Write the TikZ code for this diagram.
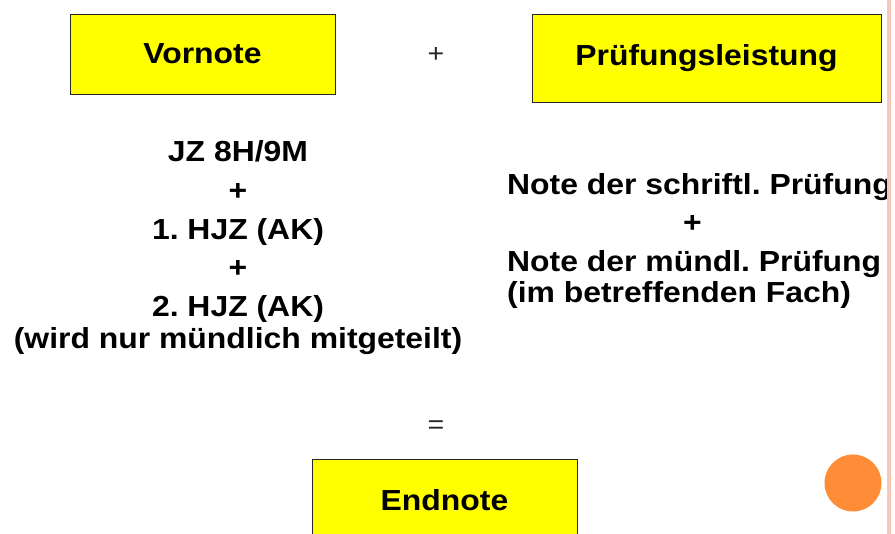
\documentclass[tikz,border=0pt]{standalone}
\usepackage{fontspec}
\setmainfont[FakeStretch=1.1]{Liberation Sans}
\usetikzlibrary{positioning}
\definecolor{notegelb}{RGB}{255,255,0}
\definecolor{randrosa}{RGB}{250,200,185}
\definecolor{kreisorange}{RGB}{255,140,55}
\frenchspacing

\begin{document}
\begin{tikzpicture}[x=1pt, y=-1pt,
    note/.style = {draw=black!85, line width=0.8pt, fill=notegelb, inner sep=0pt,
                   font=\fontsize{29}{34}\selectfont\bfseries},
    block/.style = {inner sep=0pt, font=\fontsize{29}{38.6}\selectfont\bfseries},
    op/.style = {inner sep=0pt, text=black!85, font=\fontsize{26}{30}\selectfont}]
  \useasboundingbox (0,0) rectangle (895,534);
  \clip (0,0) rectangle (895,534);
  % Boxes
  \node[note, minimum width=265pt, minimum height=80pt] (vornote) at (202.5,54) {Vornote};
  \node[note, minimum width=349pt, minimum height=88pt] (pruefung) at (706.5,58) {Prüfungsleistung};
  \node[note, minimum width=265pt, minimum height=82pt] (endnote) at (444.5,500) {Endnote};
  % Operators
  \node[op] (plus) at (436,55) {+};
  \node[op] (gleich) at (436,427) {=};
  % Text blocks (anchored at the last line)
  \node[block, align=center, anchor=base] (vorteile) at (238,349)
    {JZ 8H/9M\\+\\1. HJZ (AK)\\+\\2. HJZ (AK)\\[-6pt](wird nur mündlich mitgeteilt)};
  \node[block, align=left, anchor=base west] (pteile) at (507,303)
    {Note der schriftl. Prüfung\\\hspace*{176pt}+\\Note der mündl. Prüfung\\[-7pt](im betreffenden Fach)};
  % Decoration
  \fill[randrosa] (887,0) rectangle (891,534);
  \fill[kreisorange] (853,483) circle (28.5pt);
\end{tikzpicture}
\end{document}
